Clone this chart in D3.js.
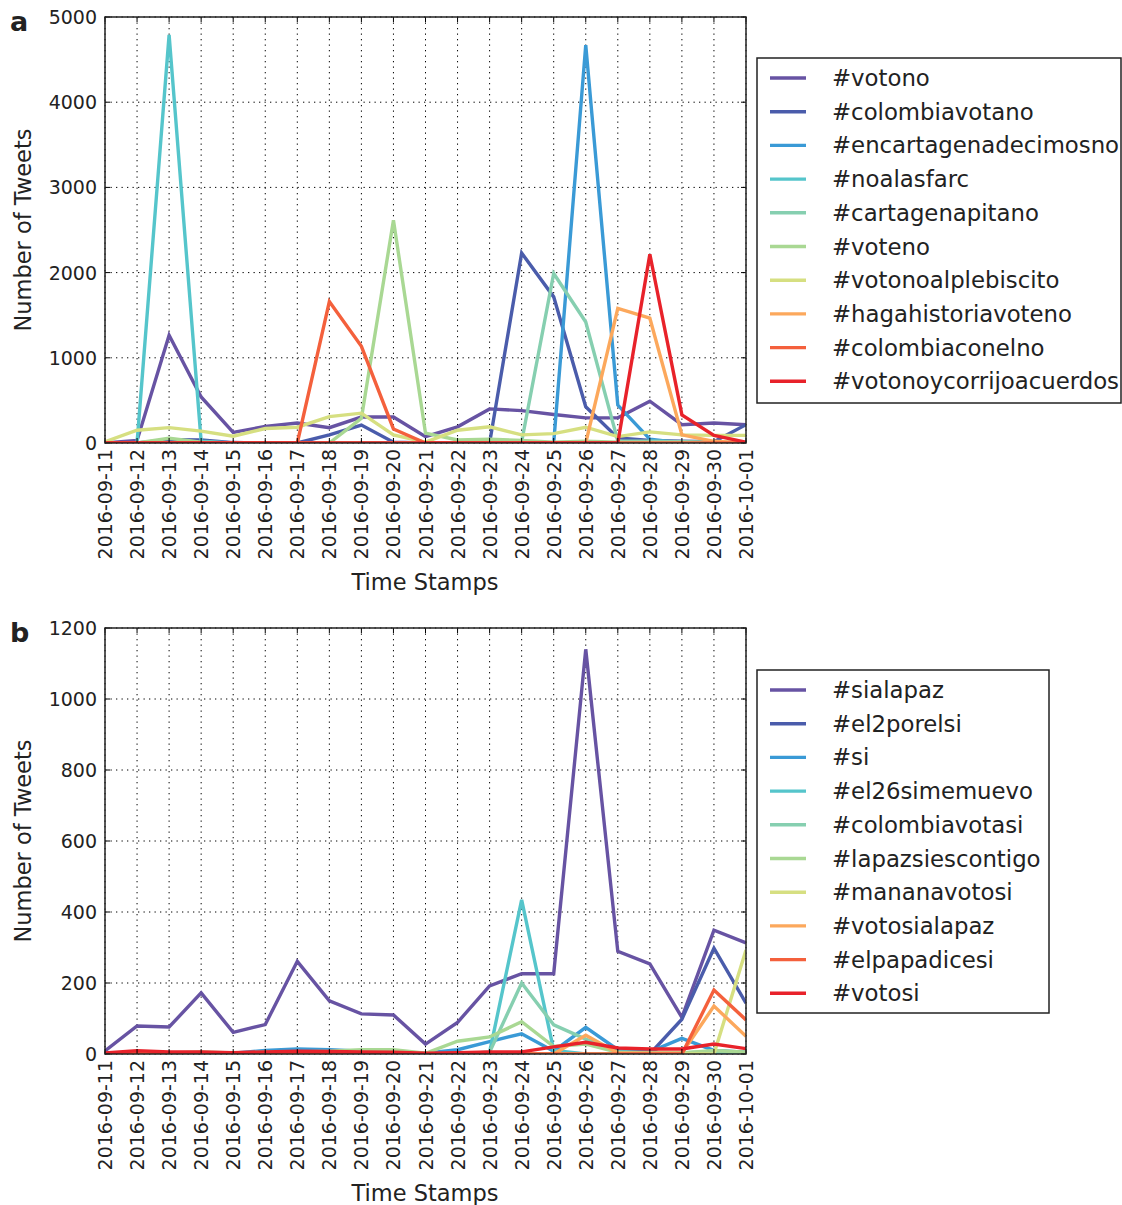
<!DOCTYPE html>
<html>
<head>
<meta charset="utf-8">
<script src="https://cdn.jsdelivr.net/npm/d3@7"></script>
<style>
  html, body { margin: 0; padding: 0; background: #fff; }
  svg { display: block; font-family: "DejaVu Sans", sans-serif; }
</style>
</head>
<body>
<svg id="chart" width="1122" height="1205"></svg>
<script>
const dates = ["2016-09-11","2016-09-12","2016-09-13","2016-09-14","2016-09-15","2016-09-16","2016-09-17","2016-09-18","2016-09-19","2016-09-20","2016-09-21","2016-09-22","2016-09-23","2016-09-24","2016-09-25","2016-09-26","2016-09-27","2016-09-28","2016-09-29","2016-09-30","2016-10-01"];

const colors = ["#6753a3","#4a5cab","#3a9ad6","#55c5cb","#86cfb0","#a9d893","#d6df81","#fca85c","#f4603c","#e8222a"];

// Panel a
const namesA = ["#votono","#colombiavotano","#encartagenadecimosno","#noalasfarc","#cartagenapitano","#voteno","#votonoalplebiscito","#hagahistoriavoteno","#colombiaconelno","#votonoycorrijoacuerdos"];
const votono                 = [0, 30, 1265, 540, 125, 195, 235, 180, 305, 305, 75, 190, 400, 380, 335, 295, 295, 490, 215, 235, 215];
const colombiavotano         = [0, 0, 40, 35, 5, 0, 0, 95, 210, 10, 0, 0, 0, 2230, 1715, 425, 60, 30, 20, 15, 215];
const encartagenadecimosno   = [0, 0, 0, 0, 0, 0, 0, 0, 0, 0, 0, 0, 0, 0, 0, 4670, 445, 45, 0, 0, 0];
const noalasfarc             = [0, 0, 4790, 20, 0, 0, 0, 0, 0, 0, 0, 0, 0, 0, 0, 0, 0, 0, 0, 0, 0];
const cartagenapitano        = [0, 0, 0, 0, 0, 0, 0, 0, 0, 0, 0, 0, 0, 15, 1990, 1420, 25, 20, 15, 10, 5];
const voteno                 = [0, 0, 55, 10, 0, 0, 0, 0, 290, 2615, 115, 35, 45, 30, 10, 20, 10, 5, 5, 5, 0];
const votonoalplebiscito     = [15, 150, 180, 140, 80, 170, 185, 310, 350, 95, 10, 150, 190, 95, 110, 185, 75, 130, 95, 90, 90];
const hagahistoriavoteno     = [0, 0, 0, 0, 0, 0, 0, 0, 0, 0, 0, 0, 0, 0, 0, 0, 1580, 1465, 95, 20, 0];
const colombiaconelno        = [0, 0, 0, 0, 0, 0, 0, 1660, 1135, 165, 0, 0, 0, 0, 0, 0, 0, 0, 0, 0, 0];
const votonoycorrijoacuerdos = [0, 0, 0, 0, 0, 0, 0, 0, 0, 0, 0, 0, 0, 0, 0, 0, 0, 2215, 330, 90, 10];
const seriesA = [votono, colombiavotano, encartagenadecimosno, noalasfarc, cartagenapitano, voteno, votonoalplebiscito, hagahistoriavoteno, colombiaconelno, votonoycorrijoacuerdos];
const yTicksA = [0, 1000, 2000, 3000, 4000, 5000];

// Panel b
const namesB = ["#sialapaz","#el2porelsi","#si","#el26simemuevo","#colombiavotasi","#lapazsiescontigo","#mananavotosi","#votosialapaz","#elpapadicesi","#votosi"];
const sialapaz         = [9, 79, 76, 172, 61, 83, 261, 150, 113, 110, 28, 89, 192, 226, 226, 1140, 289, 254, 103, 349, 313];
const el2porelsi       = [0, 0, 0, 0, 0, 0, 0, 0, 0, 0, 0, 0, 0, 0, 0, 0, 0, 0, 98, 298, 143];
const si               = [0, 3, 3, 3, 2, 10, 14, 12, 8, 6, 2, 12, 35, 57, 8, 75, 12, 6, 44, 10, 5];
const el26simemuevo    = [0, 0, 0, 0, 0, 0, 0, 0, 0, 0, 0, 0, 5, 434, 10, 0, 0, 0, 0, 0, 0];
const colombiavotasi   = [0, 0, 0, 0, 0, 0, 0, 0, 0, 0, 0, 0, 5, 200, 82, 42, 5, 3, 3, 8, 5];
const lapazsiescontigo = [0, 2, 3, 6, 3, 5, 6, 8, 12, 12, 2, 36, 48, 91, 21, 28, 5, 3, 3, 10, 5];
const mananavotosi     = [0, 0, 0, 0, 0, 0, 0, 0, 0, 0, 0, 0, 0, 0, 0, 0, 0, 0, 0, 0, 293];
const votosialapaz     = [0, 0, 0, 0, 0, 0, 0, 0, 0, 0, 0, 0, 0, 0, 0, 53, 3, 2, 2, 135, 50];
const elpapadicesi     = [0, 0, 0, 0, 0, 0, 0, 0, 0, 0, 0, 0, 0, 0, 0, 0, 0, 0, 0, 180, 96];
const votosi           = [3, 9, 6, 6, 4, 6, 8, 7, 6, 5, 2, 4, 6, 6, 20, 33, 17, 14, 14, 28, 15];
const seriesB = [sialapaz, el2porelsi, si, el26simemuevo, colombiavotasi, lapazsiescontigo, mananavotosi, votosialapaz, elpapadicesi, votosi];
const yTicksB = [0, 200, 400, 600, 800, 1000, 1200];

const svg = d3.select("#chart");

function panel(opts) {
  const {left, right, top, bottom, yMax, yTicks, names, series, letter, legend} = opts;
  const g = svg.append("g");
  const x = d3.scalePoint().domain(dates).range([left, right]);
  const y = d3.scaleLinear().domain([0, yMax]).range([bottom, top]);

  // grid
  g.append("g").selectAll("line.gx").data(dates).join("line")
    .attr("x1", d => x(d)).attr("x2", d => x(d)).attr("y1", top).attr("y2", bottom)
    .attr("stroke", "#000").attr("stroke-width", 1).attr("stroke-dasharray", "1.3,4.2");
  g.append("g").selectAll("line.gy").data(yTicks).join("line")
    .attr("x1", left).attr("x2", right).attr("y1", d => y(d)).attr("y2", d => y(d))
    .attr("stroke", "#000").attr("stroke-width", 1).attr("stroke-dasharray", "1.3,4.2");

  // lines
  const line = d3.line().x((d, i) => x(dates[i])).y(d => y(d));
  const clipId = "clip" + letter;
  svg.append("clipPath").attr("id", clipId).append("rect")
    .attr("x", left).attr("y", top - 2).attr("width", right - left).attr("height", bottom - top + 2);
  const lg = g.append("g").attr("clip-path", `url(#${clipId})`);
  series.forEach((s, k) => {
    lg.append("path").datum(s).attr("d", line)
      .attr("fill", "none").attr("stroke", colors[k]).attr("stroke-width", 3.4)
      .attr("stroke-linejoin", "miter").attr("stroke-linecap", "butt");
  });

  // ticks (inward, all sides)
  const tl = 5;
  g.append("g").selectAll("line").data(dates).join("line")
    .attr("x1", d => x(d)).attr("x2", d => x(d)).attr("y1", bottom).attr("y2", bottom - tl)
    .attr("stroke", "#000").attr("stroke-width", 1);
  g.append("g").selectAll("line").data(dates).join("line")
    .attr("x1", d => x(d)).attr("x2", d => x(d)).attr("y1", top).attr("y2", top + tl)
    .attr("stroke", "#000").attr("stroke-width", 1);
  g.append("g").selectAll("line").data(yTicks).join("line")
    .attr("x1", left).attr("x2", left + tl).attr("y1", d => y(d)).attr("y2", d => y(d))
    .attr("stroke", "#000").attr("stroke-width", 1);
  g.append("g").selectAll("line").data(yTicks).join("line")
    .attr("x1", right).attr("x2", right - tl).attr("y1", d => y(d)).attr("y2", d => y(d))
    .attr("stroke", "#000").attr("stroke-width", 1);

  // frame
  g.append("rect").attr("x", left).attr("y", top).attr("width", right - left).attr("height", bottom - top)
    .attr("fill", "none").attr("stroke", "#222").attr("stroke-width", 1.5);

  // tick labels
  g.append("g").selectAll("text").data(yTicks).join("text")
    .attr("x", left - 8).attr("y", d => y(d)).attr("text-anchor", "end").attr("dominant-baseline", "central")
    .attr("font-size", 19).attr("fill", "#222").text(d => d);
  g.append("g").selectAll("text").data(dates).join("text")
    .attr("transform", d => `translate(${x(d)},${bottom + 6}) rotate(-90)`)
    .attr("text-anchor", "end").attr("dominant-baseline", "central")
    .attr("font-size", 19).attr("fill", "#222").text(d => d);

  // axis titles
  g.append("text").attr("transform", `translate(23,${(top + bottom) / 2}) rotate(-90)`)
    .attr("text-anchor", "middle").attr("dominant-baseline", "central")
    .attr("font-size", 22.5).attr("fill", "#222").text("Number of Tweets");
  g.append("text").attr("x", 425).attr("y", bottom + 139)
    .attr("text-anchor", "middle").attr("dominant-baseline", "central")
    .attr("font-size", 22.5).attr("fill", "#222").text("Time Stamps");

  // panel letter
  g.append("text").attr("x", 10).attr("y", top + 4).attr("dominant-baseline", "central")
    .attr("font-size", 27).attr("font-weight", "bold").attr("fill", "#222").text(letter);

  // legend
  const L = legend;
  g.append("rect").attr("x", L.x).attr("y", L.y).attr("width", L.w).attr("height", L.h)
    .attr("fill", "#fff").attr("stroke", "#222").attr("stroke-width", 1.5);
  const items = g.append("g").selectAll("g").data(names).join("g")
    .attr("transform", (d, i) => `translate(${L.x},${L.y + 20 + i * 33.7})`);
  items.append("line").attr("x1", 13).attr("x2", 49).attr("y1", 0).attr("y2", 0)
    .attr("stroke", (d, i) => colors[i]).attr("stroke-width", 3.4);
  items.append("text").attr("x", 75).attr("y", 0).attr("dominant-baseline", "central")
    .attr("font-size", 22.8).attr("fill", "#222").text(d => d);
}

panel({left: 105, right: 746, top: 17, bottom: 443, yMax: 5000, yTicks: yTicksA,
  names: namesA, series: seriesA, letter: "a",
  legend: {x: 757, y: 58, w: 364, h: 345}});
panel({left: 105, right: 746, top: 628, bottom: 1054, yMax: 1200, yTicks: yTicksB,
  names: namesB, series: seriesB, letter: "b",
  legend: {x: 757, y: 670, w: 292, h: 343}});
</script>
</body>
</html>
